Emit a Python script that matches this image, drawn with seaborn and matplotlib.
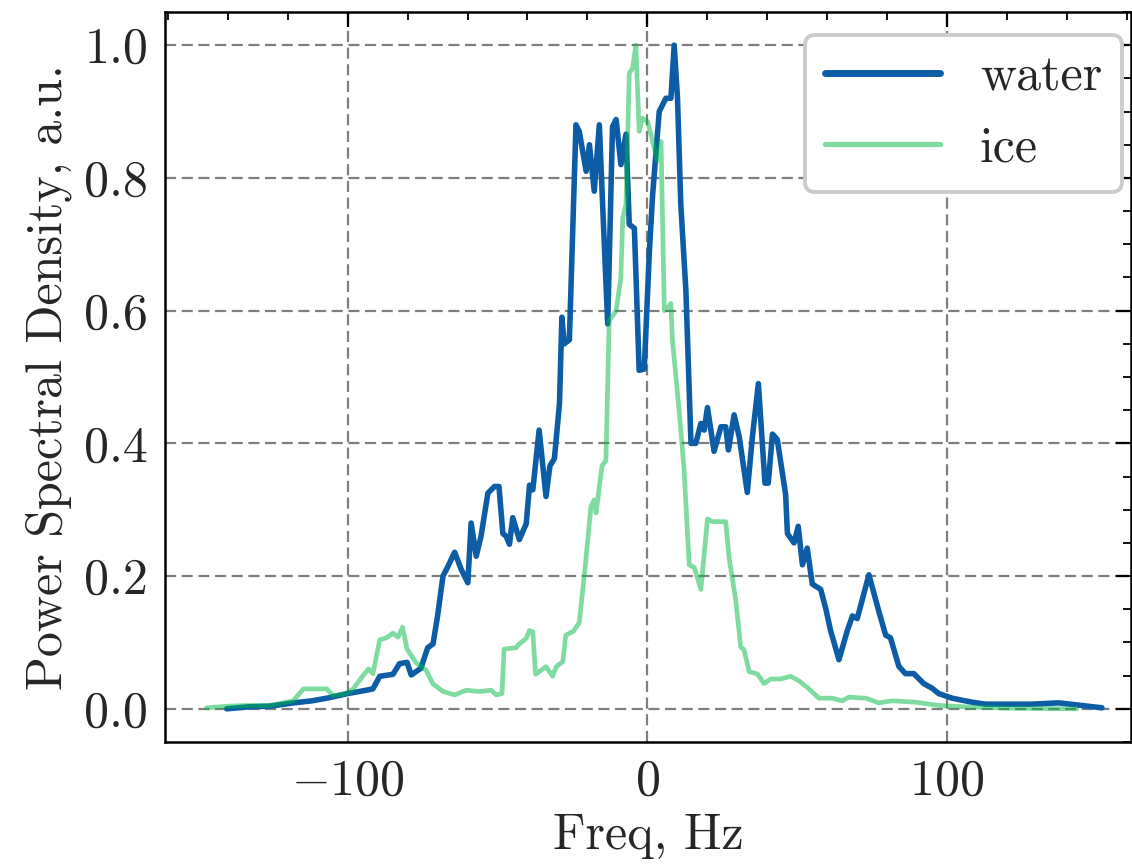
import pandas as pd
import seaborn as sns
import matplotlib.pyplot as plt
from matplotlib.ticker import MultipleLocator

# Traced spectra (Freq in Hz, normalised PSD)
water_freq = [-140.4, -133, -126, -118, -112, -107, -100, -95, -91.6, -89.3,
              -84.9, -82.7, -80.2, -78.8, -75.6, -73.3, -71.5, -70, -68.2, -66.5,
              -64.3, -62.1, -59.9, -58.8, -57.1, -55.5, -53.2, -51, -49.5, -48.2,
              -47.1, -46, -44.9, -42.7, -40.4, -39.3, -38.2, -36.1, -33.8, -32.5,
              -31, -29.3, -28.5, -27.7, -26, -23.8, -22.7, -20.4, -19.3, -17.7,
              -16, -14.9, -13.2, -11.6, -10.4, -8.8, -7.1, -6, -4.3, -2.7,
              -1, 0.7, 1.8, 4, 6.2, 7.9, 9, 10.1, 11.2, 12.9,
              14.6, 16.2, 17.9, 19, 20.1, 22.3, 24.6, 26.2, 27.1, 29,
              30.7, 33.4, 35.1, 37.1, 39.3, 40.4, 41.8, 43.4, 46.2, 46.8,
              49, 50.4, 51.8, 53.4, 55.1, 57.9, 59.6, 61.2, 64, 66.8,
              68.5, 70.1, 74, 77.3, 79.6, 81.2, 84, 86.2, 89, 92.3,
              95.1, 97.3, 101.8, 108.4, 112.9, 128.4, 137.3, 145.1, 151.8]
water_psd = [0.0, 0.003, 0.004, 0.009, 0.012, 0.016, 0.023, 0.027, 0.03, 0.049,
             0.052, 0.068, 0.070, 0.051, 0.061, 0.092, 0.098, 0.14, 0.2, 0.215,
             0.236, 0.21, 0.19, 0.28, 0.23, 0.26, 0.325, 0.335, 0.335, 0.264,
             0.26, 0.248, 0.288, 0.255, 0.279, 0.337, 0.33, 0.42, 0.32, 0.366,
             0.377, 0.46, 0.59, 0.55, 0.556, 0.88, 0.87, 0.81, 0.85, 0.78,
             0.88, 0.76, 0.58, 0.877, 0.888, 0.82, 0.866, 0.73, 0.724, 0.51,
             0.512, 0.688, 0.775, 0.9, 0.92, 0.92, 1.0, 0.92, 0.76, 0.63,
             0.40, 0.40, 0.43, 0.42, 0.454, 0.388, 0.425, 0.425, 0.39, 0.443,
             0.41, 0.326, 0.41, 0.49, 0.34, 0.34, 0.414, 0.406, 0.323, 0.264,
             0.25, 0.275, 0.217, 0.242, 0.188, 0.18, 0.151, 0.118, 0.074, 0.118,
             0.14, 0.136, 0.202, 0.147, 0.111, 0.107, 0.064, 0.053, 0.053, 0.038,
             0.031, 0.023, 0.016, 0.01, 0.007, 0.007, 0.009, 0.005, 0.0015]

ice_freq = [-147.1, -140, -133.8, -126, -118.2, -114.8, -107, -104.9, -100.4, -98.2,
            -94.9, -93.1, -91.6, -89.3, -87.1, -84.9, -83.2, -81.7, -80.2, -77.1,
            -73.8, -71.6, -68.2, -64.3, -60.4, -56, -52.1, -50.4, -48.5, -47.8,
            -43.8, -42.7, -40.4, -39.3, -38.2, -37.3, -33.8, -31.6, -30.4, -28.2,
            -27.2, -24.6, -22.7, -20.8, -18.8, -17.7, -17.1, -15.1, -13.8, -12.7,
            -10.4, -8.8, -8.2, -7.1, -6, -4.9, -3.8, -2.7, -1.6, 0.1,
            1.8, 3.4, 4.6, 5.7, 6.8, 7.9, 8.4, 10.7, 12.3, 14,
            15.7, 17.9, 20.1, 21.8, 26.2, 27.3, 29.6, 31.2, 32.3, 34,
            36.8, 39, 41.2, 44.5, 47.9, 50.7, 54, 57.3, 61.8, 65.1,
            67.3, 72.9, 77.3, 81.8, 89.6, 97.3, 106.2, 120, 143.4]
ice_psd = [0.0015, 0.004, 0.005, 0.005, 0.012, 0.03, 0.03, 0.02, 0.023, 0.03,
           0.05, 0.06, 0.053, 0.104, 0.107, 0.114, 0.108, 0.123, 0.09, 0.069,
           0.058, 0.038, 0.026, 0.021, 0.028, 0.026, 0.028, 0.021, 0.023, 0.09,
           0.092, 0.098, 0.106, 0.118, 0.116, 0.052, 0.0635, 0.049, 0.0635, 0.071,
           0.111, 0.117, 0.13, 0.21, 0.305, 0.315, 0.295, 0.366, 0.374, 0.585,
           0.6, 0.65, 0.739, 0.76, 0.958, 0.965, 1.0, 0.87, 0.89, 0.885,
           0.855, 0.826, 0.855, 0.6, 0.603, 0.611, 0.556, 0.447, 0.36, 0.217,
           0.213, 0.18, 0.286, 0.282, 0.282, 0.228, 0.162, 0.093, 0.089, 0.056,
           0.0525, 0.038, 0.045, 0.045, 0.049, 0.042, 0.03, 0.016, 0.016, 0.012,
           0.0175, 0.016, 0.009, 0.012, 0.01, 0.005, 0.003, 0.001, 0.0]

df_water = pd.DataFrame({'freq': water_freq, 'psd': water_psd})
df_ice = pd.DataFrame({'freq': ice_freq, 'psd': ice_psd})

sns.set_style("white")
plt.rcParams['font.family'] = ['cmr10', 'DejaVu Serif']
plt.rcParams['mathtext.fontset'] = 'cm'
plt.rcParams['axes.formatter.use_mathtext'] = True
plt.rcParams['font.size'] = 36
plt.rcParams['axes.unicode_minus'] = True

fs = 36
fig = plt.figure(figsize=(11.32, 8.67), dpi=100)
ax = fig.add_axes([165 / 1132, 125 / 867, 966 / 1132, 730 / 867])

sns.lineplot(data=df_water, x='freq', y='psd', ax=ax, color='#0C5DA5',
             lw=4.0, label='water')
sns.lineplot(data=df_ice, x='freq', y='psd', ax=ax, color='#00B945',
             lw=3.4, alpha=0.5, label='ice')

ax.set_xlim(-161, 161.5)
ax.set_ylim(-0.05, 1.05)
ax.xaxis.set_major_locator(MultipleLocator(100))
ax.xaxis.set_minor_locator(MultipleLocator(20))
ax.yaxis.set_major_locator(MultipleLocator(0.2))
ax.yaxis.set_minor_locator(MultipleLocator(0.05))
ax.yaxis.set_major_formatter(plt.FuncFormatter(lambda v, p: f"{v:.1f}"))

ax.tick_params(which='both', direction='in', top=True, right=True,
               labelsize=fs, width=1.6, color='black')
ax.tick_params(which='major', length=10.5, pad=12)
ax.tick_params(which='minor', length=5.5, width=1.3)
for sp in ax.spines.values():
    sp.set_linewidth(1.8)
    sp.set_color('black')

ax.grid(True, which='major', color='black', alpha=0.5, lw=1.6,
        linestyle=(0, (5, 2.5)))

ax.set_xlabel('Freq, Hz', fontsize=fs, labelpad=6)
ax.set_ylabel('Power Spectral Density, a.u.', fontsize=fs, labelpad=9)

leg = ax.legend(loc='upper right', bbox_to_anchor=(0.9907, 0.9685),
                borderaxespad=0, fontsize=fs, handlelength=2.3,
                handletextpad=0.8, labelspacing=0.5, fancybox=True,
                framealpha=1.0, edgecolor='#cccccc', borderpad=0.4)
leg.get_frame().set_linewidth(2.8)
leg_lines = leg.get_lines()
leg_lines[0].set_linewidth(5.0)
leg_lines[1].set_linewidth(3.8)

fig.savefig('out.png', dpi=100)
